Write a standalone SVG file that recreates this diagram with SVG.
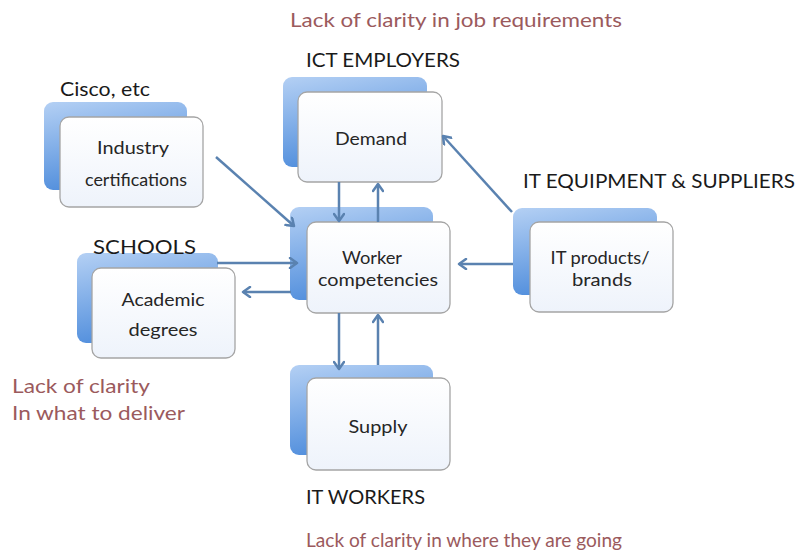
<svg xmlns="http://www.w3.org/2000/svg" width="798" height="552" viewBox="0 0 798 552">
<defs>
<linearGradient id="back" x1="0" y1="0" x2="0.3" y2="1">
<stop offset="0" stop-color="#b4d0f4"/>
<stop offset="1" stop-color="#4f8ddc"/>
</linearGradient>
<linearGradient id="front" x1="0" y1="0" x2="0" y2="1">
<stop offset="0" stop-color="#ffffff"/>
<stop offset="1" stop-color="#eef3fb"/>
</linearGradient>
<marker id="ah" markerWidth="12" markerHeight="12" refX="9" refY="6" orient="auto" markerUnits="userSpaceOnUse">
<polyline points="2,1 9,6 2,11" fill="none" stroke="#5a82b0" stroke-width="2.5" stroke-linecap="round" stroke-linejoin="round"/>
</marker>
<style>
.bk{fill:url(#back);}
.fr{fill:url(#front);stroke:#a5a5a5;stroke-width:1.3;}
.nt{font-family:Lato,"Open Sans","Liberation Sans",sans-serif;font-size:18px;fill:#262626;text-anchor:middle;}
.lb{font-family:Lato,"Open Sans","Liberation Sans",sans-serif;font-size:20px;fill:#1a1a1a;}
.rd{font-family:Lato,"Open Sans","Liberation Sans",sans-serif;font-size:20px;fill:#9b5a5d;}
.cn{fill:none;stroke:#5a82b0;stroke-width:2.5;marker-end:url(#ah);}
</style>
</defs>
<rect width="798" height="552" fill="#ffffff"/>

<g id="industry">
<rect class="bk" x="44" y="102" width="143" height="88" rx="9"/>
<rect class="fr" x="60" y="117" width="143" height="90" rx="9"/>
<text class="nt" x="133" y="154" textLength="72" lengthAdjust="spacingAndGlyphs">Industry</text>
<text class="nt" x="136" y="186" textLength="102" lengthAdjust="spacingAndGlyphs">certifications</text>
</g>

<g id="demand">
<rect class="bk" x="283" y="77" width="144" height="90" rx="9"/>
<rect class="fr" x="298" y="92" width="144" height="90" rx="9"/>
<text class="nt" x="371" y="145" textLength="72" lengthAdjust="spacingAndGlyphs">Demand</text>
</g>

<g id="worker">
<rect class="bk" x="290" y="207" width="143" height="93" rx="9"/>
<rect class="fr" x="307" y="222" width="143" height="91" rx="9"/>
<text class="nt" x="372" y="264" textLength="60" lengthAdjust="spacingAndGlyphs">Worker</text>
<text class="nt" x="378" y="286" textLength="120" lengthAdjust="spacingAndGlyphs">competencies</text>
</g>

<g id="itproducts">
<rect class="bk" x="513" y="208" width="144" height="87" rx="9"/>
<rect class="fr" x="530" y="222" width="143" height="90" rx="9"/>
<text class="nt" x="600" y="264" textLength="99" lengthAdjust="spacingAndGlyphs">IT products/</text>
<text class="nt" x="602" y="286" textLength="60" lengthAdjust="spacingAndGlyphs">brands</text>
</g>

<g id="academic">
<rect class="bk" x="77" y="253" width="141" height="90" rx="9"/>
<rect class="fr" x="92" y="268" width="143" height="90" rx="9"/>
<text class="nt" x="163" y="306" textLength="83" lengthAdjust="spacingAndGlyphs">Academic</text>
<text class="nt" x="163" y="336" textLength="69" lengthAdjust="spacingAndGlyphs">degrees</text>
</g>

<g id="supply">
<rect class="bk" x="290" y="365" width="143" height="90" rx="9"/>
<rect class="fr" x="307" y="378" width="143" height="92" rx="9"/>
<text class="nt" x="378" y="433" textLength="59" lengthAdjust="spacingAndGlyphs">Supply</text>
</g>

<g id="connectors">
<line class="cn" x1="216" y1="157" x2="294" y2="226"/>
<line class="cn" x1="339" y1="182" x2="339" y2="221"/>
<line class="cn" x1="378" y1="222" x2="378" y2="184"/>
<line class="cn" x1="512" y1="212" x2="443" y2="136"/>
<line class="cn" x1="513" y1="264" x2="459" y2="264"/>
<line class="cn" x1="217" y1="263" x2="297" y2="263"/>
<line class="cn" x1="291" y1="292" x2="243" y2="292"/>
<line class="cn" x1="339" y1="313" x2="339" y2="369"/>
<line class="cn" x1="378" y1="365" x2="378" y2="315"/>
</g>

<g id="labels">
<text class="rd" x="290" y="27" textLength="332" lengthAdjust="spacingAndGlyphs">Lack of clarity in job requirements</text>
<text class="lb" x="306" y="67" textLength="154" lengthAdjust="spacingAndGlyphs">ICT EMPLOYERS</text>
<text class="lb" x="60" y="96" textLength="90" lengthAdjust="spacingAndGlyphs">Cisco, etc</text>
<text class="lb" x="523" y="188" textLength="272" lengthAdjust="spacingAndGlyphs">IT EQUIPMENT &amp; SUPPLIERS</text>
<text class="lb" x="93" y="254" textLength="103" lengthAdjust="spacingAndGlyphs">SCHOOLS</text>
<text class="rd" x="12" y="393" textLength="138" lengthAdjust="spacingAndGlyphs">Lack of clarity</text>
<text class="rd" x="12" y="420" textLength="173" lengthAdjust="spacingAndGlyphs">In what to deliver</text>
<text class="lb" x="306" y="504" textLength="119" lengthAdjust="spacingAndGlyphs">IT WORKERS</text>
<text class="rd" x="306" y="547" textLength="316" lengthAdjust="spacingAndGlyphs">Lack of clarity in where they are going</text>
</g>
</svg>
